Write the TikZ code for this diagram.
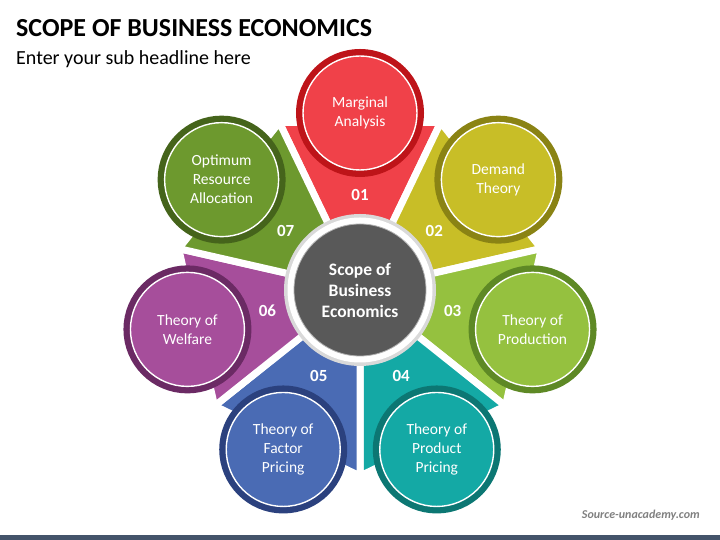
\documentclass[tikz,border=0pt]{standalone}
\usepackage{fontspec}
\setmainfont{Carlito}
\usepackage{tikz}
\usetikzlibrary{positioning, calc}
\usepackage{xcolor}

\definecolor{redA}{HTML}{F04149}
\definecolor{redB}{HTML}{BE1419}
\definecolor{oliveA}{HTML}{C8BE27}
\definecolor{oliveB}{HTML}{8A8314}
\definecolor{limeA}{HTML}{95C13F}
\definecolor{limeB}{HTML}{5E8925}
\definecolor{tealA}{HTML}{14A9A5}
\definecolor{tealB}{HTML}{0C7773}
\definecolor{blueA}{HTML}{4A6BB4}
\definecolor{blueB}{HTML}{2B417E}
\definecolor{purpA}{HTML}{A64E9B}
\definecolor{purpB}{HTML}{6B2A64}
\definecolor{greenA}{HTML}{6D992E}
\definecolor{greenB}{HTML}{45641B}
\definecolor{coregray}{HTML}{595959}
\definecolor{barblue}{HTML}{44546A}

\begin{document}
\begin{tikzpicture}[
    x=1pt, y=1pt,
    petal/.style = {draw=white, line width=7pt},
    bubble/.style 2 args = {circle, minimum size=114pt, inner sep=0pt, fill=#1, draw=white, line width=1.4pt, preaction={draw=#2, line width=14pt}, text=white, align=center, font=\fontsize{15.5}{19}\selectfont},
    num/.style = {text=white, font=\bfseries\fontsize{17}{20}\selectfont},
    core/.style = {circle, minimum size=132pt, inner sep=0pt, fill=coregray, draw=gray!60, line width=0.8pt, text=white, align=center, font=\bfseries\fontsize{17.5}{21}\selectfont}
]
\useasboundingbox (0,0) rectangle (720,540);
\coordinate (ctr) at (360,250);

% Heading
\node (title) [anchor=base west, inner sep=0pt, font=\bfseries\fontsize{26}{30}\selectfont] at (16,503) {SCOPE OF BUSINESS ECONOMICS};
\node (subtitle) [anchor=base west, inner sep=0pt, font=\fontsize{20}{24}\selectfont] at (16,475) {Enter your sub headline here};

% Petals
\filldraw [petal, fill=redA] (ctr) -- +(64.29:186) -- +(115.71:186) -- cycle;
\filldraw [petal, fill=oliveA] (ctr) -- +(12.86:186) -- +(64.29:186) -- cycle;
\filldraw [petal, fill=limeA] (ctr) -- +(-38.57:186) -- +(12.86:186) -- cycle;
\filldraw [petal, fill=tealA] (ctr) -- +(-90:186) -- +(-38.57:186) -- cycle;
\filldraw [petal, fill=blueA] (ctr) -- +(-141.43:186) -- +(-90:186) -- cycle;
\filldraw [petal, fill=purpA] (ctr) -- +(-192.86:186) -- +(-141.43:186) -- cycle;
\filldraw [petal, fill=greenA] (ctr) -- +(115.71:186) -- +(167.14:186) -- cycle;

% Bubbles
\node (marg) [bubble={redA}{redB}] at ([shift={(90:177)}]ctr) {Marginal\\Analysis};
\node (demand) [bubble={oliveA}{oliveB}] at ([shift={(38.57:177)}]ctr) {Demand\\Theory};
\node (prod) [bubble={limeA}{limeB}] at ([shift={(-12.86:177)}]ctr) {Theory of\\Production};
\node (product) [bubble={tealA}{tealB}] at ([shift={(-64.29:177)}]ctr) {Theory of\\Product\\Pricing};
\node (factor) [bubble={blueA}{blueB}] at ([shift={(-115.71:177)}]ctr) {Theory of\\Factor\\Pricing};
\node (welfare) [bubble={purpA}{purpB}] at ([shift={(-167.14:177)}]ctr) {Theory of\\Welfare};
\node (optimum) [bubble={greenA}{greenB}] at ([shift={(141.43:177)}]ctr) {Optimum\\Resource\\Allocation};

% Centre
\fill [gray!30] (ctr) circle (76);
\fill [white] (ctr) circle (72.5);
\node (core) [core] at (ctr) {Scope of\\Business\\Economics};

% Numbers
\node (n01) [num] at ([shift={(90:95)}]ctr) {01};
\node (n02) [num] at ([shift={(38.57:95)}]ctr) {02};
\node (n03) [num] at ([shift={(-12.86:95)}]ctr) {03};
\node (n04) [num] at ([shift={(-64.29:95)}]ctr) {04};
\node (n05) [num] at ([shift={(-115.71:95)}]ctr) {05};
\node (n06) [num] at ([shift={(-167.14:95)}]ctr) {06};
\node (n07) [num] at ([shift={(141.43:95)}]ctr) {07};

% Footer
\node (src) [anchor=base east, inner sep=0pt, text=gray, font=\bfseries\itshape\fontsize{12}{14}\selectfont] at (700,21) {Source-unacademy.com};
\fill [barblue] (0,0) rectangle (720,5);

\end{tikzpicture}
\end{document}
